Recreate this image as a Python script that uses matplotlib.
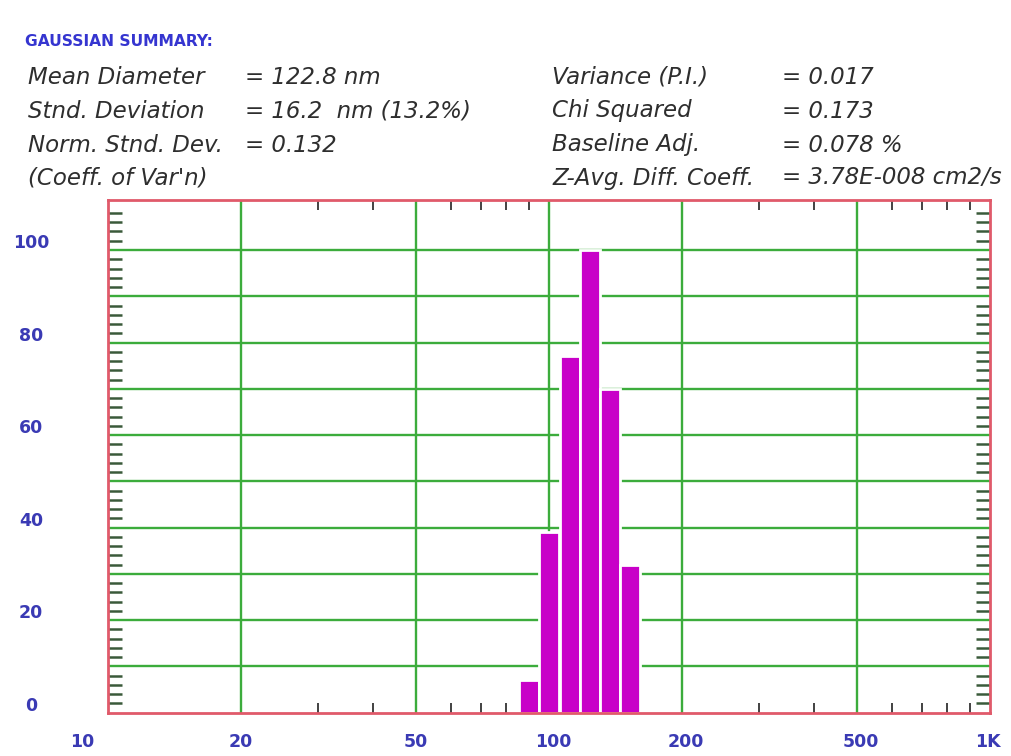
import numpy as np
import matplotlib.pyplot as plt
from matplotlib.ticker import FixedLocator, NullFormatter
import matplotlib.transforms as mtransforms

# Gaussian size distribution (intensity weighting)
diameters = [90.1, 100.0, 111.6, 124.0, 137.6, 152.6]   # nm, bin centres
intensity = [7, 39, 77, 100, 70, 32]

x_ticks = [10, 20, 50, 100, 200, 500, 1000]
x_labels = ["10", "20", "50", "100", "200", "500", "1K"]
x_minor = [30, 40, 60, 70, 80, 90, 300, 400, 600, 700, 800, 900]
y_labels = [0, 20, 40, 60, 80, 100]

summary_left = [("Mean Diameter", "= 122.8 nm"),
                ("Stnd. Deviation", "= 16.2  nm (13.2%)"),
                ("Norm. Stnd. Dev.", "= 0.132"),
                ("(Coeff. of Var'n)", "")]
summary_right = [("Variance (P.I.)", "= 0.017"),
                 ("Chi Squared", "= 0.173"),
                 ("Baseline Adj.", "= 0.078 %"),
                 ("Z-Avg. Diff. Coeff.", "= 3.78E-008 cm2/s")]

BAR = "#c800c8"
GRID = "#3cac3c"
FRAME = "#e05a6a"
LABEL = "#3a3ab4"
TEXT = "#2e2e2e"

fig = plt.figure(figsize=(10.11, 7.56), dpi=100)
ax = fig.add_axes([0.1068, 0.0573, 0.8724, 0.6781])

# bars: bin width from spacing of centres in log space
logc = np.log10(diameters)
step = np.mean(np.diff(logc))
left = 10 ** (logc - step / 2)
right = 10 ** (logc + step / 2)
ax.bar(left, intensity, width=right - left, align="edge", color=BAR,
       edgecolor="white", linewidth=2.0, zorder=3)

ax.set_xscale("log")
ax.set_xlim(10, 1000)
ax.set_ylim(0, 110.8)

# grid
for v in [20, 50, 100, 200, 500]:
    ax.axvline(v, color=GRID, lw=1.7, zorder=1)
for v in range(10, 110, 10):
    ax.axhline(v, color=GRID, lw=1.7, zorder=1)

for s in ax.spines.values():
    s.set_color(FRAME)
    s.set_linewidth(2)
    s.set_zorder(4)

ax.xaxis.set_major_locator(FixedLocator([]))
ax.xaxis.set_minor_locator(FixedLocator(x_minor))
ax.xaxis.set_minor_formatter(NullFormatter())
ax.tick_params(axis="x", which="minor", direction="in", length=7, width=1.2,
               color="#222222", top=True, bottom=True)
ax.yaxis.set_major_locator(FixedLocator([]))
ax.yaxis.set_minor_locator(FixedLocator([v for v in range(2, 111, 2) if v % 10]))
ax.yaxis.set_minor_formatter(NullFormatter())
ax.tick_params(axis="y", which="minor", direction="in", length=10, width=1.8,
               color="#3a5a3a", left=True, right=True)

# axis labels drawn as text, blue bold
lab_font = dict(family="DejaVu Sans", fontweight="bold", color=LABEL,
                fontsize=12.5)
trx = mtransforms.blended_transform_factory(ax.transData, fig.transFigure)
for v, lab in zip(x_ticks, x_labels):
    xo = v
    if v == 10:
        xo = 8.73
    elif v == 1000:
        xo = 990
    t = trx
    if len(lab) == 3:
        t = trx + mtransforms.ScaledTranslation(4 / 100, 0, fig.dpi_scale_trans)
    ax.text(xo, 1 - 742 / 756, lab, transform=t, ha="center", va="center", **lab_font)
try_ = mtransforms.blended_transform_factory(fig.transFigure, ax.transData)
for v in y_labels:
    ax.text(31 / 1011, v + 1.5, str(v), transform=try_, ha="center",
            va="center", **lab_font)

# summary block
fig.text(25 / 1011, 1 - 42 / 756, "GAUSSIAN SUMMARY:", color="#3535d0",
         fontsize=11.2, fontweight="bold", family="DejaVu Sans", va="center")
row_y = [77, 111, 145, 178]
sum_font = dict(family="DejaVu Sans", style="italic", color=TEXT,
                fontsize=16.5, va="center")
for y, (k, v) in zip(row_y, summary_left):
    fig.text(28 / 1011, 1 - y / 756, k, **sum_font)
    fig.text(245 / 1011, 1 - y / 756, v, **sum_font)
for y, (k, v) in zip(row_y, summary_right):
    fig.text(552 / 1011, 1 - y / 756, k, **sum_font)
    fig.text(782 / 1011, 1 - y / 756, v, **sum_font)

fig.savefig("out.png", dpi=100)
